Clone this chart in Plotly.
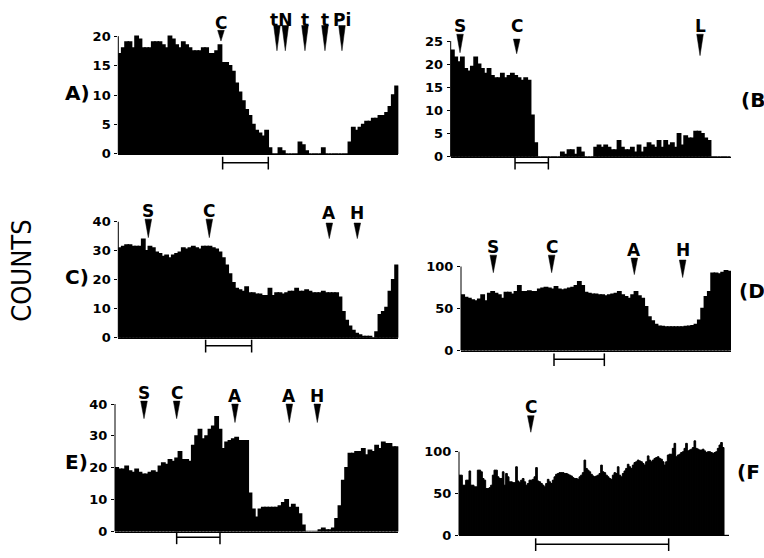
import plotly.graph_objects as go

# ---------------- data (counts per time bin) ----------------
A_counts = [17, 18, 19, 19, 18, 20, 19.5, 18, 18, 18, 19, 19, 19, 18.5, 18, 20, 19.5, 18.5, 18, 19,
            18.5, 18, 17.5, 17.5, 17.5, 18, 18, 17, 17, 17.5, 18.5, 15.5, 15.5, 15, 14, 12, 10.5, 9, 7.5, 6.5,
            5, 4, 3.5, 3, 4, 1, 0, 0, 1, 0.5, 0, 0, 0, 0, 2, 1.5, 0.5, 0, 0, 0,
            0, 1, 0, 0, 0, 0, 0, 0, 0, 2, 4.5, 4, 4.5, 5, 5.5, 5.5, 6, 6, 6.5, 6.5,
            7, 8, 10, 11.5]
B_counts = [23, 21.5, 20.5, 21.5, 19, 18.5, 19.5, 21.5, 20, 19, 18, 19, 17.5, 17, 17, 18, 17, 17.5, 18, 17.5,
            17, 16.5, 17, 16.5, 9, 3, 0, 0, 0, 0, 0, 0, 0, 1, 0.5, 1.5, 1.5, 0.5, 2, 1,
            0, 0, 0, 2, 2.5, 2, 2.5, 2, 1.5, 1.5, 3.5, 2, 1.5, 1.5, 2, 1, 2.5, 1, 2, 3,
            2.5, 2, 3.5, 2, 3.5, 2.5, 3, 2, 5, 2.5, 4.5, 4, 4, 5.5, 5.5, 5, 4, 3.5, 0, 0,
            0, 0, 0, 0]
C_counts = [31, 31.5, 32, 32, 31.5, 31.5, 31.5, 34, 30, 31.5, 31, 29.5, 29, 28, 28.5, 27.5, 28.5, 29, 29.5, 31,
            30.5, 31, 31.5, 31, 30.5, 31.5, 31.5, 31.5, 31, 30.5, 29.5, 27.5, 25, 22, 19, 17, 16.5, 16, 17.5, 15.5,
            15.5, 15, 15, 14.5, 14.5, 17, 14.5, 15.5, 15.5, 15, 15.5, 16, 16, 17, 16, 16, 16.5, 16, 15.5, 15.5,
            15.5, 16, 15.5, 15.5, 15.5, 15.5, 14, 9, 6, 4, 2.5, 1.5, 1, 0.5, 0.5, 0.5, 0, 2, 8, 9,
            10.5, 16, 20, 25]
D_counts = [66, 63, 62, 60, 59, 61, 66, 59, 68, 70, 68, 66, 62, 69, 69, 67, 70, 77, 70, 70,
            71, 70, 70, 73, 74, 75, 74, 73, 76, 73, 72, 73, 74, 75, 77, 82, 77, 69, 68, 67,
            67, 66, 66, 65, 66, 67, 68, 70, 66, 64, 62, 66, 70, 65, 62, 52, 40, 35, 31, 29,
            28.5, 28, 28, 28, 28, 28, 28, 28.5, 29, 29.5, 31, 36, 50, 64, 70, 92, 92, 91, 93, 95,
            94]
E_counts = [20, 19.5, 19.5, 20.5, 19, 18.5, 19.5, 18.5, 18, 18, 18.5, 19, 18.5, 20.5, 21.5, 21, 22.5, 22, 23, 25,
            22.5, 22.5, 22, 27, 30, 32, 29, 30, 32, 33, 36, 32, 26, 28, 28.5, 29, 29.5, 28.5, 28.5, 28.5,
            12, 7, 4.5, 7, 7.5, 7.5, 7.5, 7.5, 7.5, 8, 9, 10, 7.5, 8.5, 7.5, 5.5, 2, 0, 0, 0,
            0, 0.5, 1, 0.5, 0.5, 1, 4, 8, 16, 20, 24.5, 24.5, 25, 25, 26, 24, 25.5, 25, 27, 26,
            28, 27.5, 27.5, 26.5, 26.5]
F_counts = [72, 72, 60, 60, 66, 66, 77, 60, 60, 58, 58, 78, 78, 76, 68, 66, 56, 56, 57, 60,
            72, 78, 78, 70, 68, 68, 76, 60, 74, 70, 64, 64, 63, 63, 82, 65, 63, 66, 68, 64,
            60, 62, 66, 66, 67, 70, 81, 65, 64, 62, 60, 58, 62, 67, 64, 62, 66, 70, 73, 74,
            75, 75, 75, 74, 74, 73, 72, 71, 69, 68, 68, 67, 70, 72, 75, 90, 80, 78, 76, 73,
            71, 70, 71, 72, 74, 84, 76, 75, 72, 70, 68, 67, 72, 75, 74, 82, 72, 70, 74, 77,
            80, 85, 82, 80, 84, 87, 88, 90, 89, 88, 86, 84, 88, 95, 90, 88, 90, 92, 93, 94,
            92, 91, 88, 84, 88, 96, 97, 97, 104, 110, 94, 96, 97, 99, 100, 104, 110, 101, 102, 103,
            105, 113, 104, 103, 102, 102, 103, 101, 99, 100, 100, 99, 98, 99, 100, 104, 108, 111, 105, 0,
            0, 0]

A_ticks = [0, 5, 10, 15, 20]
B_ticks = [0, 5, 10, 15, 20, 25]
C_ticks = [0, 10, 20, 30, 40]
D_ticks = [0, 50, 100]
E_ticks = [0, 10, 20, 30, 40]
F_ticks = [0, 50, 100]

# event markers: (label, bin positions of its arrows)
A_events = [("C", [30.3]), ("tN", [47.1, 49.6]), ("t", [55.5]), ("t", [61.5]), ("Pi", [66.6])]
B_events = [("S", [2.3]), ("C", [19.3]), ("L", [74.3])]
C_events = [("S", [8.5]), ("C", [26.8]), ("A", [62.8]), ("H", [71.2])]
D_events = [("S", [9.2]), ("C", [26.7]), ("A", [51.5]), ("H", [66.0])]
E_events = [("S", [8.2]), ("C", [18.0]), ("A", [35.5]), ("A", [51.8]), ("H", [60.2])]
F_events = [("C", [42.6])]

# scale bars (start bin, end bin)
A_bar = (30.8, 44.5)
B_bar = (18.8, 28.8)
C_bar = (25.7, 39.5)
D_bar = (27.4, 42.5)
E_bar = (18.0, 31.0)
F_bar = (45.5, 125.3)

panel_names = ["A)", "(B", "C)", "(D", "E)", "(F"]

# ---------------- layout geometry (pixels) ----------------
W, H = 764, 558


def fx(p):
    return p / W


def fy(p):
    return 1 - p / H


panels = [
    dict(c=A_counts, t=A_ticks, e=A_events, b=A_bar, x0=118.3, x1=398.3, base=151, top=30,
         lab=[16, 13, 13, 13, 13], arr=[(24, 35), (19, 45), (19, 45), (19, 45), (19, 45)],
         by=160, nm=(63, 88), lw=1.5),
    dict(c=B_counts, t=B_ticks, e=B_events, b=B_bar, x0=450.7, x1=730.7, base=154, top=35,
         lab=[20, 20, 20], arr=[(28, 47), (33, 48), (28, 50)], by=160, nm=(739, 96), lw=1.5),
    dict(c=C_counts, t=C_ticks, e=C_events, b=C_bar, x0=118.3, x1=398.3, base=340, top=220.7,
         lab=[210, 210, 212, 212], arr=[(218, 237), (218, 237), (222, 238), (222, 238)], by=348,
         nm=(63, 277), lw=1.5),
    dict(c=D_counts, t=D_ticks, e=D_events, b=D_bar, x0=461, x1=731, base=353, top=266.7,
         lab=[247, 247, 250, 250], arr=[(255, 273), (255, 273), (258, 275), (260, 278)], by=362,
         nm=(737, 292), lw=1.5),
    dict(c=E_counts, t=E_ticks, e=E_events, b=E_bar, x0=115, x1=398.3, base=539, top=408,
         lab=[397, 397, 400, 400, 400], arr=[(405, 423), (405, 423), (408, 427), (408, 427), (408, 427)],
         by=545, nm=(63, 468), lw=1.5),
    dict(c=F_counts, t=F_ticks, e=F_events, b=F_bar, x0=459, x1=729, base=543, top=457,
         lab=[411], arr=[(420, 437)], by=552, nm=(735, 478), lw=1.0),
]

fig = go.Figure()
shapes = []
annotations = []
layout = {}
tickfont = dict(family="DejaVu Sans", size=13, color="black", weight="bold")

for i, p in enumerate(panels):
    n = i + 1
    sfx = "" if n == 1 else str(n)
    xa, ya = "x" + sfx, "y" + sfx
    N = len(p["c"])
    top_tick = p["t"][-1]
    scale = (p["base"] - p["top"]) / top_tick
    rmax = max(top_tick, max(p["c"])) * 1.01
    dom_top = p["base"] - rmax * scale
    ppb = (p["x1"] - p["x0"]) / N  # pixels per bin

    fig.add_trace(go.Bar(x=list(range(N)), y=p["c"], xaxis=xa, yaxis=ya,
                         marker=dict(color="black", line=dict(color="black", width=p["lw"])),
                         showlegend=False, hoverinfo="skip"))
    layout["xaxis" + sfx] = dict(domain=[fx(p["x0"]), fx(p["x1"])], anchor=ya, range=[-0.5, N - 0.5],
                                 showline=True, linecolor="black", linewidth=1, showticklabels=False,
                                 ticks="", showgrid=False, zeroline=False, fixedrange=True)
    layout["yaxis" + sfx] = dict(domain=[fy(p["base"]), fy(dom_top)], anchor=xa, range=[0, rmax],
                                 showline=False, showgrid=False, zeroline=False, ticks="outside",
                                 ticklen=3, tickcolor="black", tickwidth=1, tickvals=p["t"],
                                 ticktext=[str(v) for v in p["t"]], tickfont=tickfont,
                                 ticklabelstandoff=1, fixedrange=True)
    # y axis line up to top tick
    shapes.append(dict(type="line", xref=xa + " domain", yref=ya, x0=0, x1=0, y0=0, y1=top_tick,
                       line=dict(color="black", width=1)))
    # event markers
    for (lab, poss), ly, (at, ab) in zip(p["e"], p["lab"], p["arr"]):
        annotations.append(dict(x=sum(poss) / len(poss), y=fy(ly), xref=xa, yref="paper", text=lab,
                                showarrow=False, xanchor="center", yanchor="middle",
                                font=dict(family="DejaVu Sans", size=17, color="black", weight="bold")))
        hw = 3.3 / ppb
        for pos in poss:
            path = f"M {pos - hw},{fy(at)} L {pos + hw},{fy(at)} L {pos},{fy(ab)} Z"
            shapes.append(dict(type="path", xref=xa, yref="paper", path=path,
                               fillcolor="black", line=dict(color="black", width=0.5)))
    # scale bar
    b0, b1 = p["b"]
    shapes.append(dict(type="line", xref=xa, yref="paper", x0=b0, x1=b1, y0=fy(p["by"]), y1=fy(p["by"]),
                       line=dict(color="black", width=1.5)))
    for bx in (b0, b1):
        shapes.append(dict(type="line", xref=xa, yref="paper", x0=bx, x1=bx, y0=fy(p["by"] - 6),
                           y1=fy(p["by"] + 7), line=dict(color="black", width=1.5)))
    # panel name
    nx, ny = p["nm"]
    annotations.append(dict(x=fx(nx), y=fy(ny), xref="paper", yref="paper", text=panel_names[i],
                            showarrow=False, xanchor="left", yanchor="middle",
                            font=dict(family="DejaVu Sans", size=20, color="black", weight="bold")))

annotations.append(dict(x=fx(22), y=fy(271), xref="paper", yref="paper", text="COUNTS", textangle=-90,
                        showarrow=False, xanchor="center", yanchor="middle",
                        font=dict(family="Liberation Sans Narrow, DejaVu Sans Condensed, sans-serif",
                                  size=27, color="black")))

fig.update_layout(width=W, height=H, margin=dict(l=0, r=0, t=0, b=0), paper_bgcolor="white",
                  plot_bgcolor="white", bargap=0, shapes=shapes, annotations=annotations, **layout)
fig.write_html("out.html", config={"displayModeBar": False, "staticPlot": True},
               post_script="document.body.style.margin='0';document.body.style.overflow='hidden';")
